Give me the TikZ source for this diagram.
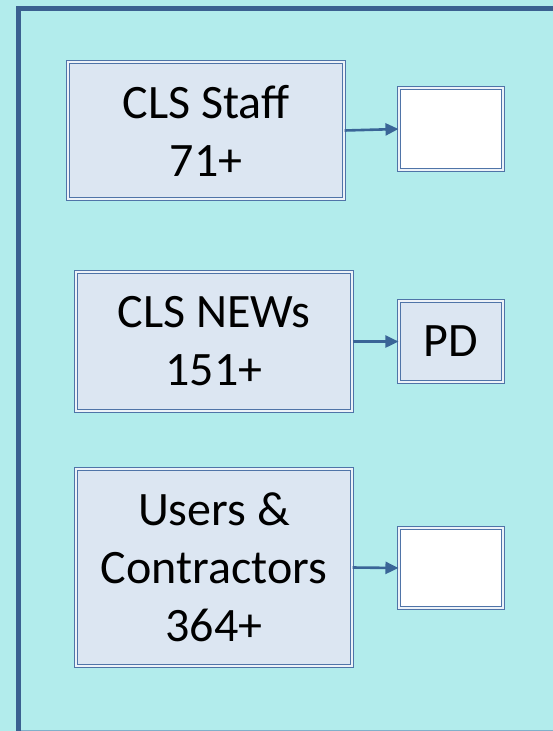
\documentclass[tikz,border=0pt]{standalone}
\usepackage{fontspec}
\setmainfont{Carlito}
\usetikzlibrary{arrows.meta}
\definecolor{bgc}{HTML}{B2ECEC}
\definecolor{framec}{HTML}{3A6090}
\definecolor{boxfill}{HTML}{DCE6F2}
\definecolor{boxline}{HTML}{4F74A8}
\definecolor{arrowc}{HTML}{3A6597}
\tikzset{
  grpbox/.style={draw=boxline, line width=1.1pt, double=boxfill!50!white, double distance=1.3pt, fill=boxfill, inner sep=0pt, align=center, font=\fontsize{48}{58}\selectfont},
  outbox/.style={draw=boxline, line width=1.1pt, double=boxfill!50!white, double distance=1.3pt, inner sep=0pt, align=center, font=\fontsize{48}{58}\selectfont},
  link/.style={draw=arrowc, line width=2.6pt, -{Triangle[length=13pt,width=12pt]}}
}
\begin{document}
\begin{tikzpicture}[x=1pt,y=-1pt]
\useasboundingbox (0,0) rectangle (553,731);
\fill[bgc] (0,0) rectangle (553,731);
\draw[framec, line width=5pt] (18.5,760) -- (18.5,8) -- (600,8);
\draw[draw=boxline!50!bgc, line width=1pt] (21,730) -- (553,730);
% left boxes
\node[grpbox, minimum width=276pt, minimum height=137pt] (staff) at (206,130.5) {CLS Staff\\71+};
\node[grpbox, minimum width=276pt, minimum height=139pt] (news) at (214,341.5) {CLS NEWs\\151+};
\node[grpbox, minimum width=276pt, minimum height=197pt] (users) at (214,567.5) {Users \&\\Contractors\\364+};
% right boxes
\node[outbox, fill=white, minimum width=104pt, minimum height=82pt] (w1) at (451,129) {};
\node[outbox, fill=boxfill, minimum width=104pt, minimum height=81pt] (pd) at (451,341.5) {PD};
\node[outbox, fill=white, minimum width=104pt, minimum height=80pt] (w3) at (451,568) {};
% arrows
\draw[link] (staff.east) -- (w1.west);
\draw[link] (news.east) -- (pd.west);
\draw[link] (users.east) -- (w3.west);
\end{tikzpicture}
\end{document}
